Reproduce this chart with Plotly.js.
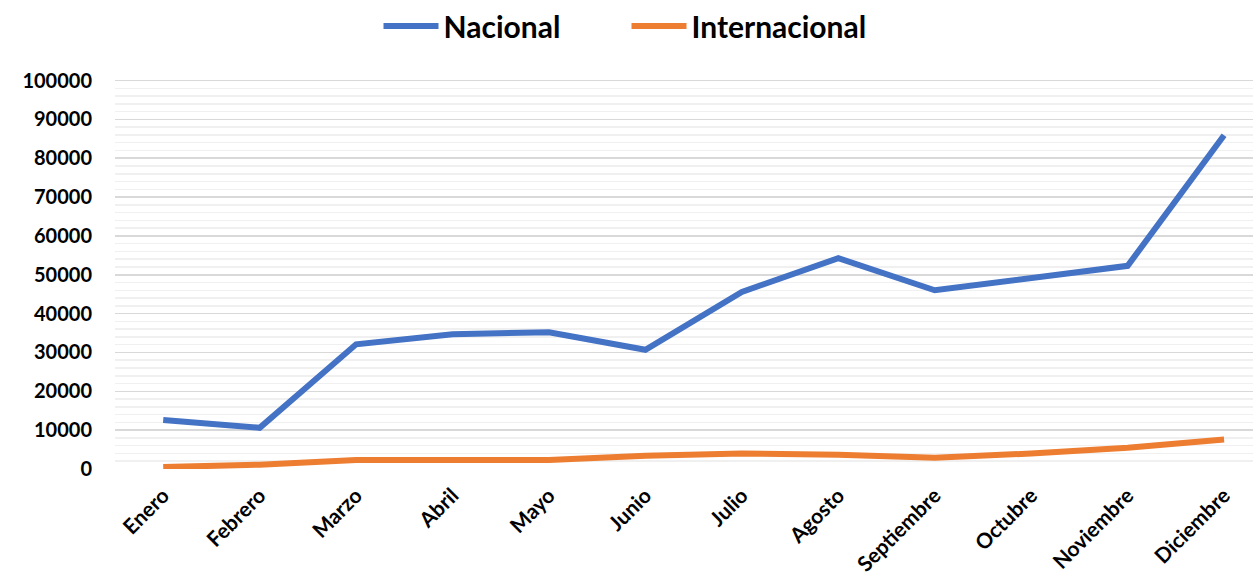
<!DOCTYPE html>
<html>
<head>
<meta charset="utf-8">
<script src="https://cdn.plot.ly/plotly-3.0.1.min.js"></script>
<style>html,body{margin:0;padding:0;background:#fff;}#chart{width:1253px;height:578px;}</style>
</head>
<body>
<div id="chart"></div>
<script>
const months = ["Enero","Febrero","Marzo","Abril","Mayo","Junio","Julio","Agosto","Septiembre","Octubre","Noviembre","Diciembre"];
const nacional = [12600, 10600, 32100, 34700, 35200, 30700, 45600, 54300, 46000, 49300, 52300, 85900];
const internacional = [500, 1100, 2300, 2200, 2300, 3400, 4000, 3700, 2900, 4000, 5500, 7600];
const seriesNames = ["Nacional", "Internacional"];

const FONT = "Lato, 'Open Sans', sans-serif";

const traces = [
  {x: months, y: nacional, name: seriesNames[0], type: "scatter", mode: "lines",
   line: {color: "#4472C4", width: 6}},
  {x: months, y: internacional, name: seriesNames[1], type: "scatter", mode: "lines",
   line: {color: "#ED7D31", width: 6}}
];

const layout = {
  width: 1253, height: 578,
  margin: {l: 115, r: 0, t: 79, b: 109},
  paper_bgcolor: "#fff", plot_bgcolor: "#fff",
  font: {family: FONT, color: "#000", size: 20, weight: 700},
  showlegend: true,
  legend: {orientation: "h", x: 0.5, xanchor: "center", xref: "container",
           y: 1.0, yanchor: "top", yref: "container",
           font: {size: 30, family: FONT, weight: 700},
           itemwidth: 55, entrywidth: 178, entrywidthmode: "pixels", tracegroupgap: 0},
  xaxis: {type: "category", range: [-0.5, 11.3], showgrid: false, zeroline: false,
          showline: false, tickangle: -45, ticks: "outside", ticklen: 5, tickcolor: "rgba(0,0,0,0)",
          tickfont: {size: 21, family: FONT, weight: 700}, fixedrange: true},
  yaxis: {range: [0, 100400], dtick: 10000, tick0: 0, showgrid: true, gridcolor: "#d9d9d9", gridwidth: 1.5,
          zeroline: false, showline: false, ticks: "", ticklabelstandoff: 22,
          tickfont: {size: 20, family: FONT, weight: 700}, tickformat: "d",
          minor: {dtick: 2000, tick0: 0, showgrid: true, gridcolor: "#f0f0f0", gridwidth: 1.5},
          fixedrange: true}
};

Plotly.newPlot("chart", traces, layout, {displayModeBar: false, staticPlot: true});
</script>
</body>
</html>
